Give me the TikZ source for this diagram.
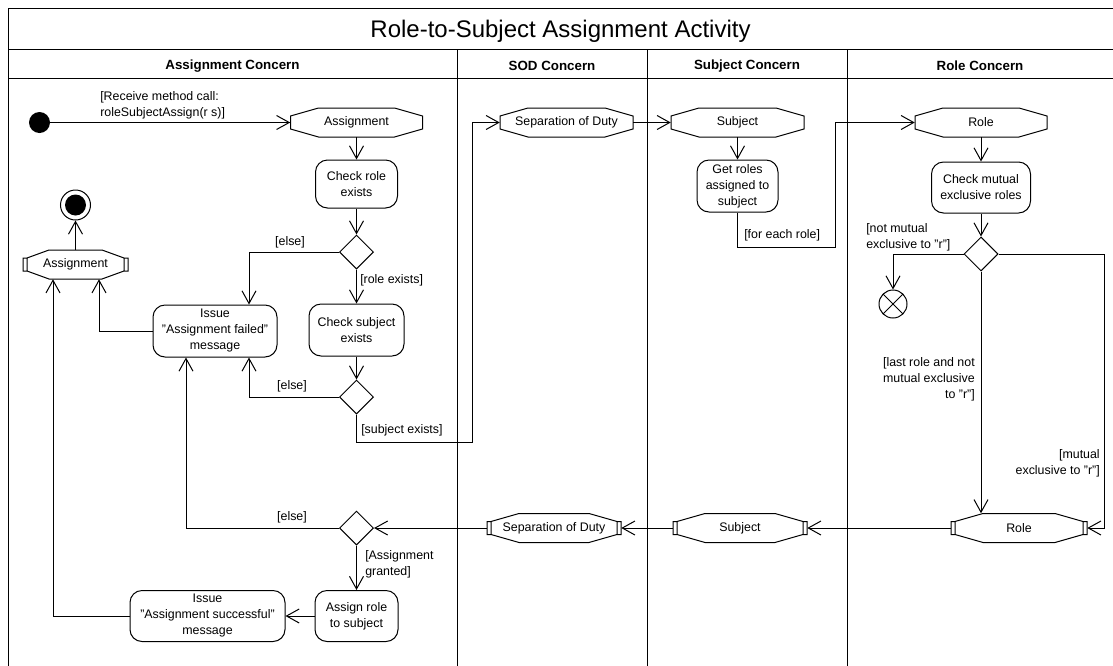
\documentclass[tikz,border=0pt]{standalone}
\usepackage{fontspec}
\setmainfont{Liberation Sans}
\usetikzlibrary{arrows.meta,shapes.geometric,calc}

% one unit of the drawing grid
\newdimen\pxu \pxu=0.75pt
\newcommand\lblfont{\fontsize{9.3}{12}\selectfont}
\newcommand\hdrfont{\fontsize{10}{12}\selectfont\bfseries}

\tikzset{
  base/.style={line width=0.75pt},
  arr/.style={base, -{Straight Barb[length=9.5pt,width=10.5pt,line width=0.75pt]}},
  act/.style={draw, base, rounded corners=9pt, align=center, inner sep=2pt, font=\lblfont},
  dec/.style={draw, base, diamond, aspect=1, minimum width=34\pxu, minimum height=34\pxu, inner sep=0pt},
  pinbox/.style={inner sep=0pt, minimum height=29\pxu, font=\lblfont},
  lbl/.style={font=\lblfont, inner sep=0pt, align=left},
  hdr/.style={font=\hdrfont, inner sep=0pt},
  startnode/.style={circle, fill, minimum size=21\pxu, inner sep=0pt},
  finalnode/.style={circle, draw, base, minimum size=30\pxu, inner sep=0pt,
    path picture={\fill (path picture bounding box.center) circle[radius=10.5\pxu];}},
  flowfinal/.style={circle, draw, base, minimum size=28\pxu, inner sep=0pt,
    path picture={\draw[base] (path picture bounding box.north west) -- (path picture bounding box.south east)
      (path picture bounding box.south west) -- (path picture bounding box.north east);}},
}

% input pin: elongated octagon  {name}{centre}{width}{text}
\newcommand\inpin[4]{%
  \node[pinbox, minimum width=#3\pxu] (#1) at (#2) {#4};
  \pgfmathsetmacro\pa{#3/2}
  \draw[base, shift={(#1.center)}] (-\pa,-6.5) -- (-\pa+28,-14.5) -- (\pa-28,-14.5) -- (\pa,-6.5)
    -- (\pa,6.5) -- (\pa-28,14.5) -- (-\pa+28,14.5) -- (-\pa,6.5) -- cycle;
}
% output pin: octagon with a small bar on each side  {name}{centre}{width}{text}{slant}
\newcommand\outpin[5]{%
  \node[pinbox, minimum width=#3\pxu] (#1) at (#2) {#4};
  \pgfmathsetmacro\pa{#3/2}\pgfmathsetmacro\pb{#3/2-4}
  \draw[base, shift={(#1.center)}] (-\pb,-6.5) -- (-\pb+#5,-14.5) -- (\pb-#5,-14.5) -- (\pb,-6.5)
    -- (\pb,6.5) -- (\pb-#5,14.5) -- (-\pb+#5,14.5) -- (-\pb,6.5) -- cycle
    (-\pa,-6.5) rectangle (-\pb,6.5) (\pb,-6.5) rectangle (\pa,6.5);
}

\begin{document}
\begin{tikzpicture}[x=0.75pt, y=-0.75pt]
\useasboundingbox (0,0) rectangle (1113,665);
\fill[white] (0,0) rectangle (1113,665);
\clip (0,0) rectangle (1113,665);

% frame, title row, header row and lanes
\draw[base] (8,670) -- (8,8) -- (1120,8);
\draw[base] (8,49) -- (1120,49) (8,78) -- (1120,78);
\draw[base] (457,49) -- (457,670) (647,49) -- (647,670) (847,49) -- (847,670);
\node[font=\fontsize{18}{22}\selectfont, inner sep=0pt] (title) at (560.5,31) {Role-to-Subject Assignment Activity};
\node[hdr] (hA) at (232.5,66) {Assignment Concern};
\node[hdr] (hB) at (552,66) {SOD Concern};
\node[hdr] (hC) at (747,66) {Subject Concern};
\node[hdr] (hD) at (980,66) {Role Concern};

% Assignment Concern
\node[startnode] (start) at (39.5,122.5) {};
\inpin{assignIn}{356.5,122.5}{132}{Assignment}
\node[act, minimum width=82\pxu, minimum height=48\pxu] (checkRole) at (356.5,184) {Check role\\exists};
\node[dec] (dec1) at (356.5,252) {};
\node[act, minimum width=95\pxu, minimum height=52\pxu] (checkSubj) at (356.5,330) {Check subject\\exists};
\node[act, minimum width=124\pxu, minimum height=52\pxu] (issueF) at (215,331) {Issue\\"Assignment failed"\\message};
\node[dec] (dec2) at (356.5,397) {};
\outpin{pinA}{75.5,264.5}{105}{Assignment}{22}
\node[finalnode] (final) at (75.5,205) {};
\node[dec] (dec3) at (356.5,528) {};
\node[act, minimum width=83\pxu, minimum height=51\pxu] (assignRole) at (356.5,616) {Assign role\\to subject};
\node[act, minimum width=155\pxu, minimum height=51\pxu] (issueS) at (207.5,616) {Issue\\"Assignment successful"\\message};

% SOD, Subject and Role Concern
\inpin{sodIn}{566.5,122.5}{133}{Separation of Duty}
\inpin{subjIn}{737.5,122.5}{133}{Subject}
\node[act, minimum width=81\pxu, minimum height=52\pxu] (getRoles) at (737.5,186) {Get roles\\assigned to\\subject};
\inpin{roleIn}{981,122.5}{132}{Role}
\node[act, minimum width=99\pxu, minimum height=51\pxu] (checkMut) at (981,187.5) {Check mutual\\exclusive roles};
\node[dec] (dec4) at (981,254) {};
\node[flowfinal] (ff) at (893,304) {};
\outpin{rolePin}{1019,528}{136}{Role}{28}
\outpin{subjPin}{740,528}{134}{Subject}{28}
\outpin{sodPin}{554,528}{134}{Separation of Duty}{28}

% bend points
\coordinate (bendSod) at (472,442);
\coordinate (bendRole) at (835,247);
\coordinate (bendMut) at (1104,254);

% flows
\draw[arr] (start) -- (assignIn.west);
\node[lbl, anchor=west] (lRecv) at (100,105) {[Receive method call:\\roleSubjectAssign(r s)]};
\draw[arr] (assignIn.south) -- (checkRole.north);
\draw[arr] (checkRole.south) -- (dec1.north);
\draw[arr] (dec1.west) -| ([xshift=34\pxu]issueF.north);
\node[lbl] (lElse1) at (290,242) {[else]};
\draw[arr] (dec1.south) -- (checkSubj.north);
\node[lbl, anchor=west] (lRole) at (360,280) {[role exists]};
\draw[arr] (checkSubj.south) -- (dec2.north);
\draw[arr] (dec2.west) -| ([xshift=34\pxu]issueF.south);
\node[lbl] (lElse2) at (292,386) {[else]};
\draw[arr] (dec2.south) |- (bendSod) |- (sodIn.west);
\node[lbl, anchor=west] (lSubj) at (361,430) {[subject exists]};
\draw[arr] (sodIn.east) -- (subjIn.west);
\draw[arr] (subjIn.south) -- (getRoles.north);
\draw[arr] (getRoles.south) |- (bendRole) |- (roleIn.west);
\node[lbl, anchor=west] (lEach) at (744,235) {[for each role]};
\draw[arr] (roleIn.south) -- (checkMut.north);
\draw[arr] (checkMut.south) -- (dec4.north);
\draw[arr] (dec4.west) -| (ff.north);
\node[lbl, anchor=west] (lNot) at (866,237) {[not mutual\\exclusive to "r"]};
\draw[arr] (dec4.east) -- (bendMut) |- (rolePin.east);
\node[lbl, anchor=east, align=right] (lMut) at (1100,463) {[mutual\\exclusive to "r"]};
\draw[arr] (dec4.south) -- (dec4.south |- rolePin.north);
\node[lbl, anchor=east, align=right] (lLast) at (975,379) {[last role and not\\mutual exclusive\\to "r"]};
\draw[arr] (rolePin.west) -- (subjPin.east);
\draw[arr] (subjPin.west) -- (sodPin.east);
\draw[arr] (sodPin.west) -- (dec3.east);
\draw[arr] (dec3.west) -| ([xshift=-29\pxu]issueF.south);
\node[lbl] (lElse3) at (292,517) {[else]};
\draw[arr] (dec3.south) -- (assignRole.north);
\node[lbl, anchor=west] (lGrant) at (365,564) {[Assignment\\granted]};
\draw[arr] (assignRole.west) -- (issueS.east);
\draw[arr] (issueS.west) -| ([xshift=-22.5\pxu]pinA.south);
\draw[arr] (issueF.west) -| ([xshift=23.5\pxu]pinA.south);
\draw[arr] (pinA.north) -- (final.south);
\end{tikzpicture}
\end{document}
